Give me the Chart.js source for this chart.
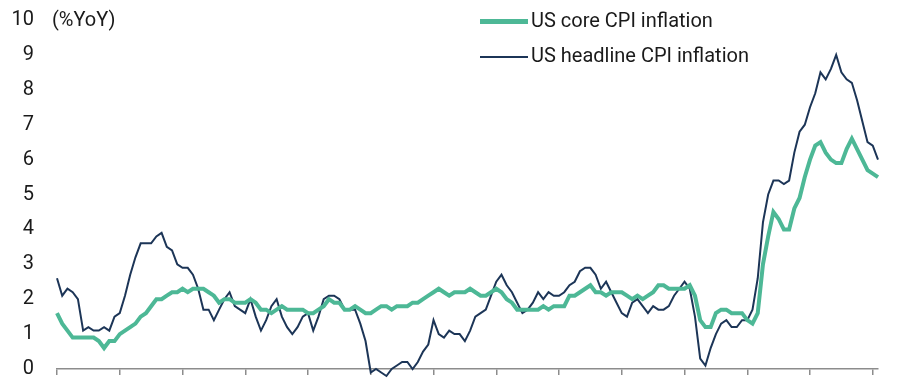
<!DOCTYPE html>
<html>
<head>
<meta charset="utf-8">
<script src="https://cdn.jsdelivr.net/npm/chart.js@4.4.1/dist/chart.umd.min.js"></script>
<style>
    body { margin: 0; background: #fff; }
    #wrap { position: relative; width: 898px; height: 390px; font-family: Roboto, "Noto Sans", sans-serif; color: #1a1a1a; }
    #unit { position: absolute; left: 52px; top: 7px; font-size: 20px; line-height: 24px; }
    .leg { position: absolute; left: 480px; font-size: 20px; line-height: 24px; white-space: nowrap; }
    .leg span.ln { display: inline-block; width: 48px; vertical-align: middle; margin-right: 3px; }
</style>
</head>
<body>
<div id="wrap">
    <canvas id="myChart" width="898" height="390"></canvas>
    <div id="unit">(%YoY)</div>
    <div class="leg" style="top:8px"><span class="ln" style="height:5px;background:#4db896"></span>US core CPI inflation</div>
    <div class="leg" style="top:43px"><span class="ln" style="height:2px;background:#1c3557"></span>US headline CPI inflation</div>
</div>
<script>
// ---------------- DATA ----------------
const years = [2010, 2011, 2012, 2013, 2014, 2015, 2016, 2017, 2018, 2019, 2020, 2021, 2022, 2023];
const months = ["Jan", "Feb", "Mar", "Apr", "May", "Jun", "Jul", "Aug", "Sep", "Oct", "Nov", "Dec"];
const lastYearMonths = 2; // data runs to Feb 2023

const coreCPI = [
    1.6, 1.3, 1.1, 0.9, 0.9, 0.9, 0.9, 0.9, 0.8, 0.6, 0.8, 0.8,
    1.0, 1.1, 1.2, 1.3, 1.5, 1.6, 1.8, 2.0, 2.0, 2.1, 2.2, 2.2,
    2.3, 2.2, 2.3, 2.3, 2.3, 2.2, 2.1, 1.9, 2.0, 2.0, 1.9, 1.9,
    1.9, 2.0, 1.9, 1.7, 1.7, 1.6, 1.7, 1.8, 1.7, 1.7, 1.7, 1.7,
    1.6, 1.6, 1.7, 1.8, 2.0, 1.9, 1.9, 1.7, 1.7, 1.8, 1.7, 1.6,
    1.6, 1.7, 1.8, 1.8, 1.7, 1.8, 1.8, 1.8, 1.9, 1.9, 2.0, 2.1,
    2.2, 2.3, 2.2, 2.1, 2.2, 2.2, 2.2, 2.3, 2.2, 2.1, 2.1, 2.2,
    2.3, 2.2, 2.0, 1.9, 1.7, 1.7, 1.7, 1.7, 1.7, 1.8, 1.7, 1.8,
    1.8, 1.8, 2.1, 2.1, 2.2, 2.3, 2.4, 2.2, 2.2, 2.1, 2.2, 2.2,
    2.2, 2.1, 2.0, 2.1, 2.0, 2.1, 2.2, 2.4, 2.4, 2.3, 2.3, 2.3,
    2.3, 2.4, 2.1, 1.4, 1.2, 1.2, 1.6, 1.7, 1.7, 1.6, 1.6, 1.6,
    1.4, 1.3, 1.6, 3.0, 3.8, 4.5, 4.3, 4.0, 4.0, 4.6, 4.9, 5.5,
    6.0, 6.4, 6.5, 6.2, 6.0, 5.9, 5.9, 6.3, 6.6, 6.3, 6.0, 5.7,
    5.6, 5.5
];

const headlineCPI = [
    2.6, 2.1, 2.3, 2.2, 2.0, 1.1, 1.2, 1.1, 1.1, 1.2, 1.1, 1.5,
    1.6, 2.1, 2.7, 3.2, 3.6, 3.6, 3.6, 3.8, 3.9, 3.5, 3.4, 3.0,
    2.9, 2.9, 2.7, 2.3, 1.7, 1.7, 1.4, 1.7, 2.0, 2.2, 1.8, 1.7,
    1.6, 2.0, 1.5, 1.1, 1.4, 1.8, 2.0, 1.5, 1.2, 1.0, 1.2, 1.5,
    1.6, 1.1, 1.5, 2.0, 2.1, 2.1, 2.0, 1.7, 1.7, 1.7, 1.3, 0.8,
    -0.1, 0.0, -0.1, -0.2, 0.0, 0.1, 0.2, 0.2, 0.0, 0.2, 0.5, 0.7,
    1.4, 1.0, 0.9, 1.1, 1.0, 1.0, 0.8, 1.1, 1.5, 1.6, 1.7, 2.1,
    2.5, 2.7, 2.4, 2.2, 1.9, 1.6, 1.7, 1.9, 2.2, 2.0, 2.2, 2.1,
    2.1, 2.2, 2.4, 2.5, 2.8, 2.9, 2.9, 2.7, 2.3, 2.5, 2.2, 1.9,
    1.6, 1.5, 1.9, 2.0, 1.8, 1.6, 1.8, 1.7, 1.7, 1.8, 2.1, 2.3,
    2.5, 2.3, 1.5, 0.3, 0.1, 0.6, 1.0, 1.3, 1.4, 1.2, 1.2, 1.4,
    1.4, 1.7, 2.6, 4.2, 5.0, 5.4, 5.4, 5.3, 5.4, 6.2, 6.8, 7.0,
    7.5, 7.9, 8.5, 8.3, 8.6, 9.0, 8.5, 8.3, 8.2, 7.7, 7.1, 6.5,
    6.4, 6.0
];

// month labels, Jan 2010 .. Feb 2023
const labels = [];
years.forEach((y, i) => {
    const n = i === years.length - 1 ? lastYearMonths : 12;
    for (let m = 0; m < n; m++) labels.push(months[m] + " " + y);
});

// ---------------- CHART ----------------
const ctx = document.getElementById("myChart").getContext("2d");

const chart = new Chart(ctx, {
    type: "line",
    data: {
        labels: labels,
        datasets: [
            {
                label: "US core CPI inflation",
                data: coreCPI,
                borderColor: "#4db896",
                borderWidth: 4,
                pointRadius: 0,
                tension: 0,
                clip: false
            },
            {
                label: "US headline CPI inflation",
                data: headlineCPI,
                borderColor: "#1c3557",
                borderWidth: 2,
                pointRadius: 0,
                tension: 0,
                clip: false
            }
        ]
    },
    options: {
        responsive: false,
        animation: false,
        layout: { padding: { top: 20, right: 20, bottom: 0, left: 0 } },
        plugins: {
            legend: { display: false },
            tooltip: { enabled: false }
        },
        scales: {
            x: {
                ticks: { display: false },
                grid: {
                    display: true,
                    drawOnChartArea: false,
                    drawTicks: true,
                    tickLength: 6,
                    lineWidth: 1.5,
                    color: (c) => (c.index % 12 === 0 ? "#8c8c8c" : "rgba(0,0,0,0)")
                },
                border: { display: true, color: "#8c8c8c", width: 1.5 },
                afterFit: (scale) => {
                    scale.height = 21;
                    scale.paddingLeft = 0;
                    scale.paddingRight = 0;
                }
            },
            y: {
                min: 0,
                max: 10,
                ticks: {
                    stepSize: 1,
                    padding: 15,
                    color: "#1a1a1a",
                    font: { family: "Roboto", size: 20 }
                },
                grid: { display: false },
                border: { display: false },
                afterFit: (scale) => {
                    scale.width = 57;
                    // keep the end labels from pushing the plot area in
                    scale.paddingTop = 0;
                    scale.paddingBottom = 0;
                }
            }
        }
    }
});
</script>
</body>
</html>
